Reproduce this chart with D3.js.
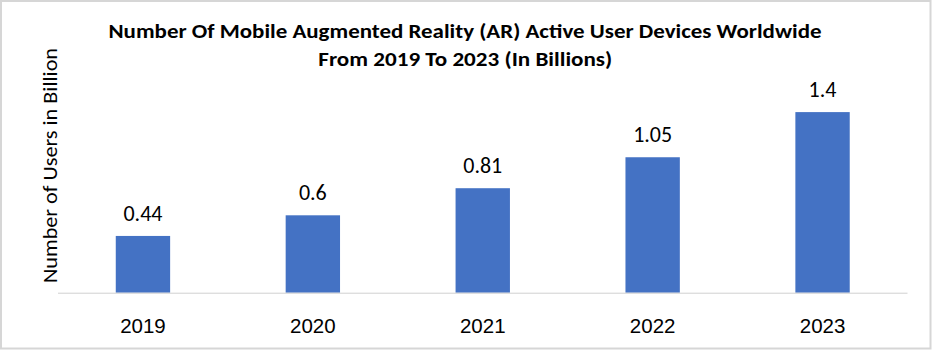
<!DOCTYPE html>
<html>
<head>
<meta charset="utf-8">
<script src="https://cdn.jsdelivr.net/npm/d3@7"></script>
<style>
  html, body { margin: 0; padding: 0; background: #fff; }
  svg { display: block; font-family: Carlito, Calibri, Lato, "Open Sans", sans-serif; }
</style>
</head>
<body>
<svg id="chart" width="932" height="350"></svg>
<script>
const years = ["2019", "2020", "2021", "2022", "2023"];
const users = [0.44, 0.6, 0.81, 1.05, 1.4];
const valueLabels = ["0.44", "0.6", "0.81", "1.05", "1.4"];
const titleLines = [
  "Number Of Mobile Augmented Reality (AR) Active User Devices Worldwide",
  "From 2019 To 2023 (In Billions)"
];
const yAxisTitle = "Number of Users in Billion";

const W = 932, H = 350;
const svg = d3.select("#chart");

// outer border
svg.append("rect")
  .attr("x", 1).attr("y", 1).attr("width", W - 2.5).attr("height", H - 2.5)
  .attr("fill", "#fff").attr("stroke", "#d6d6d6").attr("stroke-width", 2);

const plot = { left: 58, right: 907.5, top: 86.3, bottom: 292.7 };

const x = d3.scaleBand().domain(years).range([plot.left, plot.right]).paddingInner(0.68).paddingOuter(0.34);
const y = d3.scaleLinear().domain([0, 1.6]).range([plot.bottom, plot.top]);

// title
const titleSpans = [713, 294];
const titleCenters = [465, 465.3];
svg.append("g").selectAll("text").data(titleLines).join("text")
  .attr("x", (d, i) => titleCenters[i]).attr("y", (d, i) => 38.3 + i * 27.4)
  .attr("text-anchor", "middle")
  .attr("font-weight", "bold").attr("font-size", 21).attr("fill", "#000")
  .attr("textLength", (d, i) => titleSpans[i])
  .attr("lengthAdjust", "spacingAndGlyphs")
  .text(d => d);

// bars
svg.append("g").selectAll("rect").data(users).join("rect")
  .attr("x", (d, i) => x(years[i]))
  .attr("y", d => y(d))
  .attr("width", x.bandwidth())
  .attr("height", d => y(0) - y(d))
  .attr("fill", "#4472C4");

// x axis
const xAxis = svg.append("g").attr("transform", `translate(0,${y(0)})`)
  .call(d3.axisBottom(x).tickSize(0).tickPadding(0));
xAxis.select(".domain").attr("stroke", "#d0d0d0").attr("stroke-width", 1)
  .attr("d", `M${plot.left},0.5H${plot.right}`);
xAxis.selectAll("text")
  .attr("font-family", null)
  .attr("font-size", 20.5).attr("fill", "#000")
  .attr("dy", null).attr("y", 40);

// value labels
svg.append("g").selectAll("text").data(users).join("text")
  .attr("x", (d, i) => x(years[i]) + x.bandwidth() / 2)
  .attr("y", d => y(d) - 15)
  .attr("text-anchor", "middle").attr("font-size", 22).attr("fill", "#000")
  .text((d, i) => valueLabels[i]);

// y axis title
svg.append("text")
  .attr("transform", `translate(57,${(48 + 283) / 2}) rotate(-90)`)
  .attr("text-anchor", "middle").attr("font-size", 21).attr("fill", "#000")
  .attr("textLength", 235).attr("lengthAdjust", "spacingAndGlyphs")
  .text(yAxisTitle);
</script>
</body>
</html>
